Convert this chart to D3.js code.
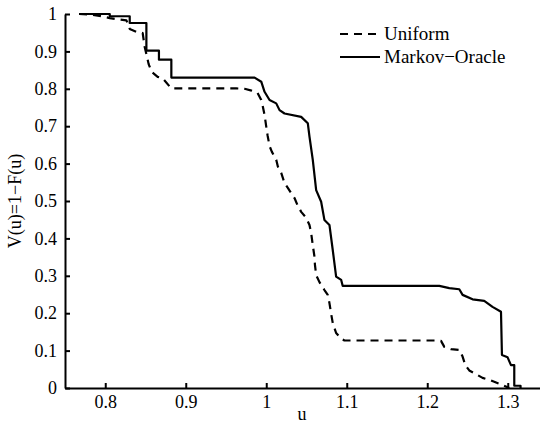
<!DOCTYPE html>
<html>
<head>
<meta charset="utf-8">
<script src="https://cdn.jsdelivr.net/npm/d3@7"></script>
<style>
  body { margin: 0; background: #fff; }
  svg { display: block; font-family: 'Liberation Serif', 'Times New Roman', 'DejaVu Serif', serif; }
  .axis path, .axis line { stroke: #000; stroke-width: 2; }
  .axis text { font-size: 18px; fill: #000; font-family: 'Liberation Serif', 'Times New Roman', serif; }
  .axis-label { font-size: 18px; fill: #000; text-anchor: middle; }
  .legend text { font-size: 19px; fill: #000; }
</style>
</head>
<body>
<div id="chart"></div>
<script>
const container_id = 'chart';
const width = 540, height = 429;
const margin = { top: 14, bottom: 41, left: 65, right: -8 };

// tick labels
const xTicks = [0.8, 0.9, 1, 1.1, 1.2, 1.3];
const xTickLabels = ['0.8', '0.9', '1', '1.1', '1.2', '1.3'];
const yTicks = [0, 0.1, 0.2, 0.3, 0.4, 0.5, 0.6, 0.7, 0.8, 0.9, 1];
const yTickLabels = ['0', '0.1', '0.2', '0.3', '0.4', '0.5', '0.6', '0.7', '0.8', '0.9', '1'];

const seriesNames = ['Uniform', 'Markov\u2212Oracle'];

// Uniform (dashed)
const uniformU = [0.7675, 0.7808, 0.7953, 0.8056, 0.818, 0.8263, 0.8304, 0.8403, 0.8465, 0.849, 0.8514,
  0.8539, 0.8577, 0.8651, 0.8713, 0.8821, 0.9628, 0.9731, 0.9818, 0.9892, 0.9938, 0.9958, 0.9979, 1.0,
  1.0016, 1.0041, 1.0069, 1.0124, 1.0144, 1.0186, 1.0227, 1.0268, 1.031, 1.0351, 1.0388, 1.0434, 1.0496,
  1.0537, 1.0558, 1.0578, 1.0599, 1.0605, 1.062, 1.0661, 1.0723, 1.0764, 1.0785, 1.0804, 1.0826, 1.0868,
  1.0931, 1.0971, 1.2109, 1.2171, 1.2212, 1.2295, 1.2398, 1.2439, 1.2473, 1.2522, 1.2622, 1.2687, 1.2792,
  1.2932, 1.3019];
const uniformV = [1.0, 0.999, 0.994, 0.989, 0.985, 0.983, 0.96, 0.951, 0.949, 0.912, 0.89,
  0.866, 0.845, 0.832, 0.828, 0.801, 0.801, 0.8, 0.795, 0.789, 0.77, 0.752, 0.73, 0.699,
  0.676, 0.647, 0.632, 0.61, 0.592, 0.575, 0.548, 0.535, 0.521, 0.508, 0.489, 0.471, 0.455,
  0.436, 0.414, 0.382, 0.351, 0.329, 0.302, 0.283, 0.262, 0.249, 0.227, 0.201, 0.174, 0.147,
  0.132, 0.127, 0.127, 0.126, 0.11, 0.104, 0.102, 0.084, 0.061, 0.047, 0.035, 0.027, 0.02,
  0.008, 0.0];

// Markov-Oracle (solid)
const oracleU = [0.7675, 0.8056, 0.8056, 0.8304, 0.8304, 0.8511, 0.8511, 0.8667, 0.8667, 0.8821, 0.8821,
  0.9855, 0.9938, 0.9979, 1.0041, 1.0124, 1.0165, 1.0227, 1.0434, 1.0516, 1.0537, 1.0578, 1.062, 1.0682,
  1.0723, 1.0785, 1.0826, 1.0868, 1.0931, 1.095, 1.215, 1.2274, 1.2398, 1.2439, 1.2563, 1.2708, 1.2811,
  1.2916, 1.2928, 1.2998, 1.304, 1.3081, 1.3081, 1.3159, 1.3159];
const oracleV = [1.0, 1.0, 0.994, 0.994, 0.976, 0.976, 0.902, 0.902, 0.878, 0.878, 0.83,
  0.83, 0.819, 0.792, 0.77, 0.761, 0.743, 0.734, 0.725, 0.708, 0.672, 0.61, 0.529, 0.498,
  0.449, 0.436, 0.369, 0.298, 0.289, 0.273, 0.273, 0.267, 0.264, 0.249, 0.237, 0.233, 0.217,
  0.204, 0.088, 0.082, 0.061, 0.061, 0.006, 0.006, 0.0];

const xScale = d3.scaleLinear().domain([0.75, 1.35]).range([margin.left, width - margin.right]);
const yScale = d3.scaleLinear().domain([0, 1]).range([height - margin.bottom, margin.top]);

function drawXAxis(svg) {
    svg.append('g')
        .attr('class', 'x axis')
        .attr('transform', 'translate(0,' + (height - margin.bottom) + ')')
        .call(d3.axisBottom(xScale)
            .tickValues(xTicks)
            .tickFormat((d, i) => xTickLabels[i])
            .tickSizeInner(-5)
            .tickSizeOuter(0)
            .tickPadding(7));
}

function drawYAxis(svg) {
    svg.append('g')
        .attr('class', 'y axis')
        .attr('transform', 'translate(' + margin.left + ',0)')
        .call(d3.axisLeft(yScale)
            .tickValues(yTicks)
            .tickFormat((d, i) => yTickLabels[i])
            .tickSizeInner(-5)
            .tickSizeOuter(0)
            .tickPadding(8));
}

function drawLine(svg, us, vs, dashed) {
    const pts = us.map((u, i) => [u, vs[i]]);
    const line = d3.line().x(d => xScale(d[0])).y(d => yScale(d[1]));
    svg.append('path')
        .datum(pts)
        .attr('d', line)
        .attr('fill', 'none')
        .attr('stroke', '#000')
        .attr('stroke-width', 2.2)
        .attr('stroke-linejoin', 'round')
        .attr('stroke-dasharray', dashed ? '8,6' : null);
}

function drawLegend(svg) {
    const g = svg.append('g').attr('class', 'legend');
    const rows = [{ name: seriesNames[0], dash: '8,6', y: 34 }, { name: seriesNames[1], dash: null, y: 57 }];
    rows.forEach(r => {
        g.append('line')
            .attr('x1', 340).attr('x2', 380)
            .attr('y1', r.y).attr('y2', r.y)
            .attr('stroke', '#000')
            .attr('stroke-width', 2.2)
            .attr('stroke-dasharray', r.dash);
        g.append('text')
            .attr('x', 384)
            .attr('y', r.y + 6)
            .text(r.name);
    });
}

function drawChart() {
    const svg = d3.select('#' + container_id)
        .append('svg')
        .attr('width', width)
        .attr('height', height);

    drawLine(svg, oracleU, oracleV, false);
    drawLine(svg, uniformU, uniformV, true);
    drawXAxis(svg);
    drawYAxis(svg);
    drawLegend(svg);

    svg.append('text')
        .attr('class', 'axis-label')
        .attr('x', 302)
        .attr('y', 420)
        .text('u');

    svg.append('text')
        .attr('class', 'axis-label')
        .attr('transform', 'translate(21,' + ((margin.top + height - margin.bottom) / 2) + ') rotate(-90)')
        .text('V(u)=1\u2212F(u)');
}

drawChart();
</script>
</body>
</html>
